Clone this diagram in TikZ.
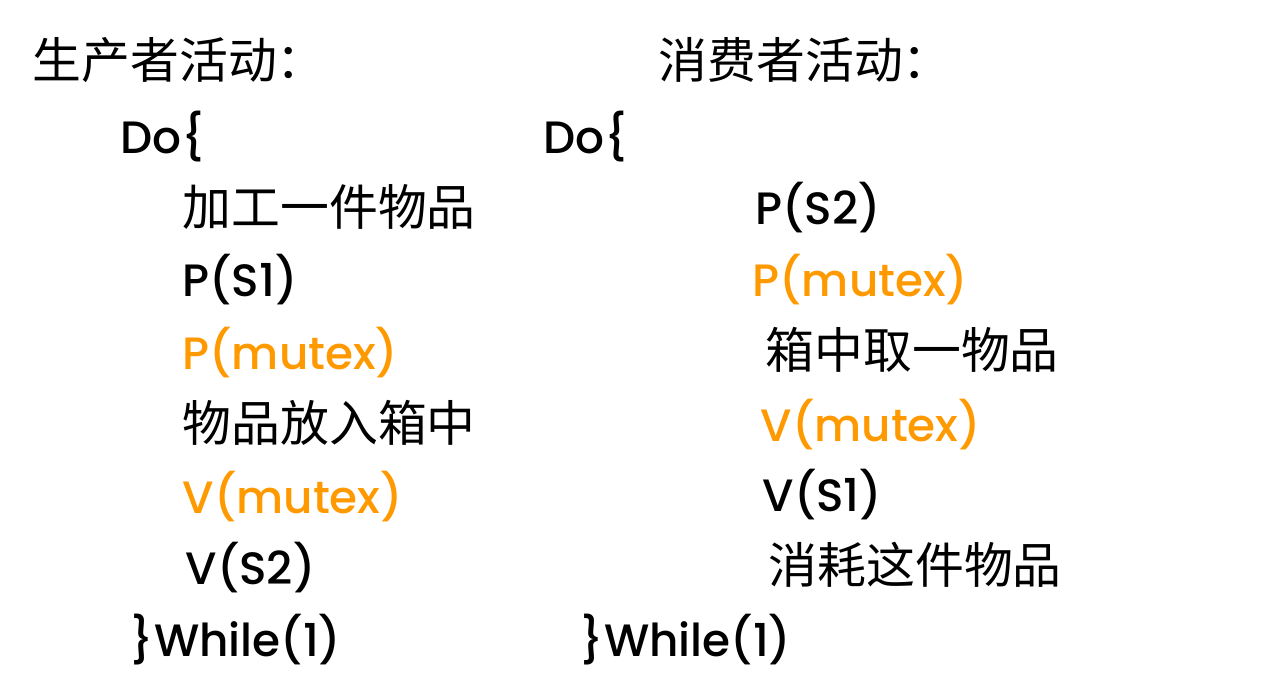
\documentclass[tikz,border=0pt]{standalone}
\usepackage{fontspec}
\setmainfont{Poppins}[UprightFont=* Medium]
\newfontfamily\cjk{Noto Sans CJK SC}
\definecolor{mutexorange}{RGB}{255,153,0}
\tikzset{
	code/.style={anchor=west, inner sep=0pt, font=\fontsize{12.9}{16}\selectfont},
	hanzi/.style={anchor=west, inner sep=0pt, font=\cjk\fontsize{13.9}{16}\selectfont},
	lock/.style={code, color=mutexorange}
}

\begin{document}
\begin{tikzpicture}
		%%%%% START %%%%%
		
		\useasboundingbox[fill=white] (0, 0) rectangle (12.78, 6.99);
		
		% producer
		\node[hanzi] (prodtitle) at (0.32, 6.39) {生产者活动：};
		\node[code] (proddo) at (1.20, 5.62) {Do\{};
		\node[hanzi] (prodmake) at (1.82, 4.92) {加工一件物品};
		\node[code] (prodps) at (1.82, 4.19) {P(S1)};
		\node[lock] (prodpm) at (1.82, 3.46) {P(mutex)};
		\node[hanzi] (prodput) at (1.82, 2.76) {物品放入箱中};
		\node[lock] (prodvm) at (1.82, 2.02) {V(mutex)};
		\node[code] (prodvs) at (1.85, 1.31) {V(S2)};
		\node[code] (prodwhile) at (1.30, 0.59) {\}While(1)};
		
		% consumer
		\node[hanzi] (constitle) at (6.58, 6.39) {消费者活动：};
		\node[code] (consdo) at (5.43, 5.62) {Do\{};
		\node[code] (consps) at (7.55, 4.91) {P(S2)};
		\node[lock] (conspm) at (7.52, 4.19) {P(mutex)};
		\node[hanzi] (constake) at (7.65, 3.49) {箱中取一物品};
		\node[lock] (consvm) at (7.60, 2.74) {V(mutex)};
		\node[code] (consvs) at (7.62, 2.04) {V(S1)};
		\node[hanzi] (consuse) at (7.68, 1.34) {消耗这件物品};
		\node[code] (conswhile) at (5.80, 0.59) {\}While(1)};
		
		%%%%% END %%%%%
\end{tikzpicture}
\end{document}
